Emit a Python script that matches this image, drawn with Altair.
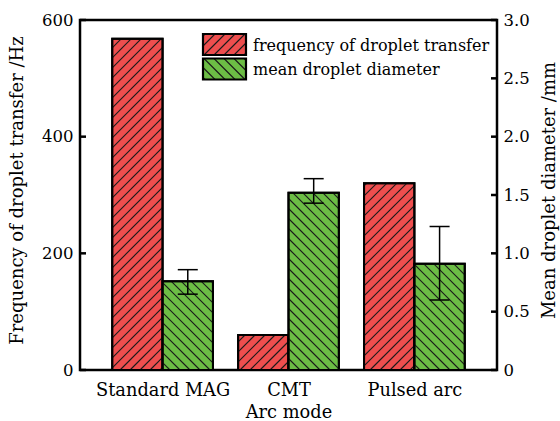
import json
import math
import altair as alt
import pandas as pd

# ---------------- data ----------------
categories = ["Standard MAG", "CMT", "Pulsed arc"]
series_names = ["frequency of droplet transfer", "mean droplet diameter"]
frequency_hz = [568, 60, 320]
diameter_mm = [0.76, 1.52, 0.91]
diameter_err_low = [0.65, 1.43, 0.60]
diameter_err_high = [0.86, 1.64, 1.23]
left_tick_values = [0, 200, 400, 600]
right_tick_values = [0, 0.5, 1.0, 1.5, 2.0, 2.5, 3.0]

# ---------------- style / layout ----------------
W, H = 417, 350
X_MIN, X_MAX = -0.656, 2.656
BAR_W = 0.4
Y_LEFT = [0, 600]
Y_RIGHT = [0, 3.0]
RED = "#EE4E4E"
GREEN = "#6CBD45"
FONT = "DejaVu Serif"
HATCH = 10.0
kx = W / (X_MAX - X_MIN)

xs = alt.Scale(domain=[X_MIN, X_MAX], nice=False, zero=False)
ys_left = alt.Scale(domain=Y_LEFT, nice=False)
ys_right = alt.Scale(domain=Y_RIGHT, nice=False)


def hatch_segments(x0, x1, top, ky, direction):
    u0, u1 = (x0 - X_MIN) * kx, (x1 - X_MIN) * kx
    h = top * ky
    segs = []
    if direction == "/":
        cmin, cmax = u0 - h, u1
    else:
        cmin, cmax = u0, u1 + h
    for k in range(math.floor(cmin / HATCH), math.ceil(cmax / HATCH) + 1):
        c = k * HATCH
        if direction == "/":
            lo, hi = max(u0, c), min(u1, h + c)
            if hi - lo > 0.5:
                segs.append((lo, lo - c, hi, hi - c))
        else:
            lo, hi = max(u0, c - h), min(u1, c)
            if hi - lo > 0.5:
                segs.append((lo, c - lo, hi, c - hi))
    return [
        {"hx": X_MIN + a / kx, "hy": b / ky, "hx2": X_MIN + c_ / kx, "hy2": d / ky}
        for a, b, c_, d in segs
    ]


red_df = pd.DataFrame({
    "category": categories,
    "x0": [i - BAR_W for i in range(len(categories))],
    "x1": [float(i) for i in range(len(categories))],
    "value": frequency_hz,
})
green_df = pd.DataFrame({
    "category": categories,
    "x0": [float(i) for i in range(len(categories))],
    "x1": [i + BAR_W for i in range(len(categories))],
    "xc": [i + BAR_W / 2 for i in range(len(categories))],
    "value": diameter_mm,
    "lo": diameter_err_low,
    "hi": diameter_err_high,
})

red_hatch = []
for _, r in red_df.iterrows():
    red_hatch += hatch_segments(r.x0, r.x1, r.value, H / Y_LEFT[1], "/")
green_hatch = []
for _, r in green_df.iterrows():
    green_hatch += hatch_segments(r.x0, r.x1, r.value, H / Y_RIGHT[1], "\\")
red_hatch_df = pd.DataFrame(red_hatch)
green_hatch_df = pd.DataFrame(green_hatch)

label_lookup = json.dumps(categories)

x_axis = alt.Axis(
    values=list(range(len(categories))),
    labelExpr=label_lookup + "[datum.value]",
    ticks=False, domain=False, grid=False, orient="bottom",
    title="Arc mode", labelPadding=11, titlePadding=5,
    labelFontSize=17.8, titleFontSize=17.8,
)
left_axis = alt.Axis(
    values=left_tick_values, ticks=False, domain=False, grid=False,
    orient="left",
    title="Frequency of droplet transfer /Hz", labelPadding=7, titlePadding=15,
    titleY=170,
    labelFlush=False, labelFontSize=16.5, titleFontSize=18,
)
right_axis = alt.Axis(
    values=right_tick_values, ticks=False, domain=False, grid=False,
    orient="right",
    labelExpr="datum.value == 0 ? '0' : format(datum.value, '.1f')",
    title="Mean droplet diameter /mm", labelPadding=6, titlePadding=11,
    titleAngle=270, titleBaseline="top", titleY=170,
    labelFlush=False, labelFontSize=16.5, titleFontSize=18,
)


def yl(field, axis=None):
    return alt.Y(field, scale=ys_left, axis=axis)


def yr(field, axis=None):
    return alt.Y(field, scale=ys_right, axis=axis)


def xq(field, axis=None):
    return alt.X(field, scale=xs, axis=axis)


# ---------------- frequency (left axis) ----------------
red_bars = alt.Chart(red_df).mark_rect(fill=RED, stroke="black", strokeWidth=2).encode(
    x=xq("x0:Q", x_axis), x2="x1", y=yl("value:Q", left_axis), y2=alt.datum(0),
)
red_hatch_layer = alt.Chart(red_hatch_df).mark_rule(color="#1a1a1a", strokeWidth=1.1).encode(
    x=xq("hx:Q"), x2="hx2", y=yl("hy:Q"), y2="hy2",
)
red_outline = alt.Chart(red_df).mark_rect(fillOpacity=0, stroke="black", strokeWidth=2).encode(
    x=xq("x0:Q"), x2="x1", y=yl("value:Q"), y2=alt.datum(0),
)
left_ticks = alt.Chart(pd.DataFrame({"v": left_tick_values})).mark_rule(
    color="black", strokeWidth=2.5).encode(
    y=yl("v:Q"), x=alt.value(0), x2=alt.value(6),
)

# ---------------- diameter (right axis) ----------------
green_bars = alt.Chart(green_df).mark_rect(fill=GREEN, stroke="black", strokeWidth=2).encode(
    x=xq("x0:Q"), x2="x1", y=yr("value:Q", right_axis), y2=alt.datum(0),
)
green_hatch_layer = alt.Chart(green_hatch_df).mark_rule(color="#1a1a1a", strokeWidth=1.1).encode(
    x=xq("hx:Q"), x2="hx2", y=yr("hy:Q"), y2="hy2",
)
green_outline = alt.Chart(green_df).mark_rect(fillOpacity=0, stroke="black", strokeWidth=2).encode(
    x=xq("x0:Q"), x2="x1", y=yr("value:Q"), y2=alt.datum(0),
)
err_rule = alt.Chart(green_df).mark_rule(color="black", strokeWidth=1.5).encode(
    x=xq("xc:Q"), y=yr("lo:Q"), y2="hi",
)
cap_lo = alt.Chart(green_df).mark_tick(
    orient="horizontal", size=20, thickness=1.5, color="black", opacity=1).encode(
    x=xq("xc:Q"), y=yr("lo:Q"),
)
cap_hi = alt.Chart(green_df).mark_tick(
    orient="horizontal", size=20, thickness=1.5, color="black", opacity=1).encode(
    x=xq("xc:Q"), y=yr("hi:Q"),
)
right_ticks = alt.Chart(pd.DataFrame({"v": right_tick_values})).mark_rule(
    color="black", strokeWidth=2.5).encode(
    y=yr("v:Q"), x=alt.value(W - 6), x2=alt.value(W),
)

# ---------------- legend (hand-drawn swatches) ----------------
SW_HALF_W = 21.5
SW_HALF_H = 10.5
hh = SW_HALF_H / SW_HALF_W
step = HATCH / SW_HALF_W
rect_path = f"M-1,{-hh:.3f}L1,{-hh:.3f}L1,{hh:.3f}L-1,{hh:.3f}Z"


def swatch_path(direction):
    p = rect_path
    k0 = math.floor((-1 - hh) / step)
    k1 = math.ceil((1 + hh) / step)
    for k in range(k0, k1 + 1):
        c = k * step
        lo, hi = max(-1, c - hh), min(1, c + hh)
        if hi - lo < 0.03:
            continue
        if direction == "/":
            p += f"M{lo:.3f},{c - lo:.3f}L{hi:.3f},{c - hi:.3f}"
        else:
            p += f"M{lo:.3f},{lo - c:.3f}L{hi:.3f},{hi - c:.3f}"
    return p


sym_size = (2 * SW_HALF_W) ** 2
legend_layers = []
for name, color, direction, ly in [
    (series_names[0], RED, "/", 24.5),
    (series_names[1], GREEN, "\\", 49),
]:
    ldf = pd.DataFrame({"series": [name]})
    legend_layers.append(
        alt.Chart(ldf).mark_point(
            shape=swatch_path(direction), size=sym_size, filled=True, fill=color,
            stroke="#1a1a1a", strokeWidth=1.1, opacity=1,
        ).encode(x=alt.value(144.5), y=alt.value(ly))
    )
    legend_layers.append(
        alt.Chart(ldf).mark_point(
            shape=rect_path, size=sym_size, filled=False, stroke="black",
            strokeWidth=2.2, opacity=1,
        ).encode(x=alt.value(144.5), y=alt.value(ly))
    )
    legend_layers.append(
        alt.Chart(ldf).mark_text(
            align="left", baseline="middle", font=FONT, fontSize=16, color="black",
        ).encode(x=alt.value(173), y=alt.value(ly + 1), text="series:N")
    )

chart = (
    alt.layer(
        red_bars, red_hatch_layer, red_outline, left_ticks,
        green_bars, green_hatch_layer, green_outline, err_rule, cap_lo, cap_hi,
        right_ticks, *legend_layers,
    )
    .resolve_scale(y="independent")
    .resolve_axis(x="independent")
    .properties(
        width=W, height=H,
        autosize=alt.AutoSizeParams(type="none"),
        padding={"left": 80, "top": 20, "right": 63, "bottom": 51},
        background="white",
    )
    .configure_view(stroke="black", strokeWidth=2.5)
    .configure_axis(
        labelFont=FONT, titleFont=FONT, labelColor="black", titleColor="black",
        titleFontWeight="normal",
    )
)

chart.save("out.html", embed_options={"renderer": "svg", "actions": False})
